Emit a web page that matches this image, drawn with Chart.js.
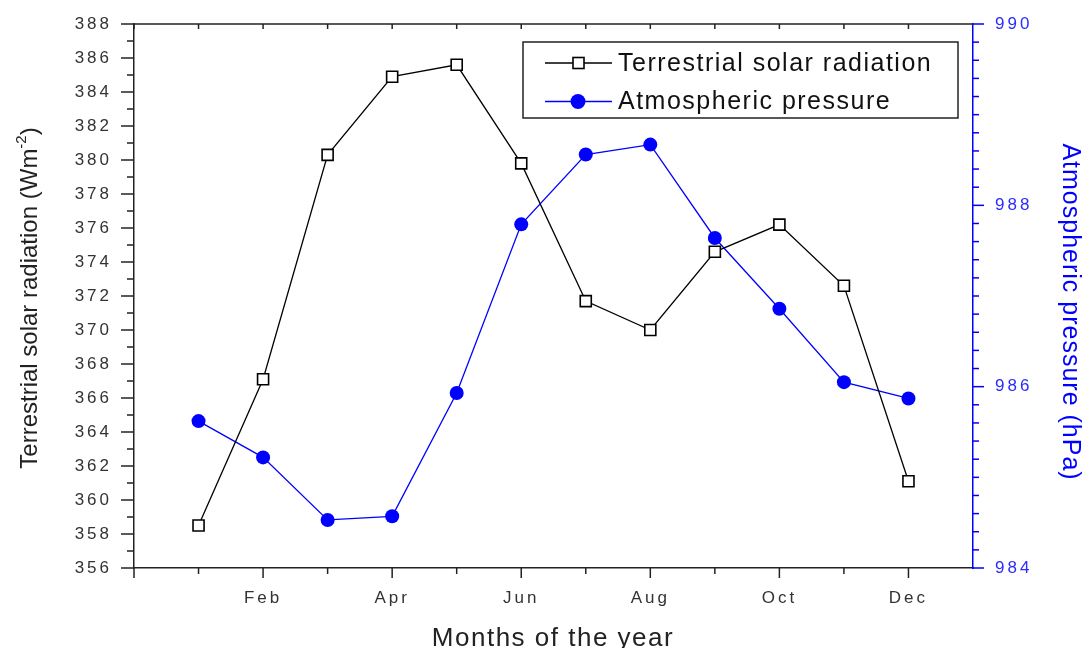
<!DOCTYPE html>
<html>
<head>
<meta charset="utf-8">
<script src="https://cdn.jsdelivr.net/npm/chart.js@4/dist/chart.umd.min.js"></script>
<style>
  html, body { margin: 0; padding: 0; background: #fff; }
  #wrap { width: 1084px; height: 648px; }
</style>
</head>
<body>
<div id="wrap"><canvas id="chartSolarPressure" width="1084" height="648"></canvas></div>
<script>
// month positions on the x axis (Jan = 1 ... Dec = 12)
const months = [1, 2, 3, 4, 5, 6, 7, 8, 9, 10, 11, 12];
// x tick labels, indexed by axis value 0..13
const xTickLabels = ['', '', 'Feb', '', 'Apr', '', 'Jun', '', 'Aug', '', 'Oct', '', 'Dec', ''];

// Terrestrial solar radiation (W m-2), left axis
const solarRadiation = [358.5, 367.1, 380.3, 384.9, 385.6, 379.8, 371.7, 370.0, 374.6, 376.2, 372.6, 361.1];
// Atmospheric pressure (hPa), right axis
const atmPressure = [985.62, 985.22, 984.53, 984.57, 985.93, 987.79, 988.56, 988.67, 987.64, 986.86, 986.05, 985.87];

const seriesLabels = ['Terrestrial solar radiation', 'Atmospheric pressure'];

const BLUE = '#0000ff';
const INK = '#222';
const FONT = '"Liberation Sans", Arial, sans-serif';

function pairs(xs, ys) {
  return xs.map((m, i) => ({ x: m, y: ys[i] }));
}

function line(ctx, x1, y1, x2, y2) {
  ctx.beginPath();
  ctx.moveTo(x1, y1);
  ctx.lineTo(x2, y2);
  ctx.stroke();
}

// fixed box sizes so the plot area sits where the reference has it
function fixBox(size, key) {
  return (s) => {
    s[key] = size;
    s.paddingTop = 0;
    s.paddingBottom = 0;
    s.paddingLeft = 0;
    s.paddingRight = 0;
  };
}

// tick marks, frame, titles and legend drawn the Origin way
const originDecor = {
  id: 'originDecor',
  beforeDraw(chart) {
    chart.ctx.letterSpacing = '3px';
  },
  afterDraw(chart) {
    const ctx = chart.ctx;
    const a = chart.chartArea;
    const sx = chart.scales.x, sy = chart.scales.y, sy1 = chart.scales.y1;
    ctx.save();
    ctx.letterSpacing = '0px';
    ctx.lineWidth = 1.5;

    // top frame
    ctx.strokeStyle = INK;
    line(ctx, a.left, a.top, a.right, a.top);

    // x ticks: bottom outward (major/minor), top inward
    for (let v = sx.min; v < sx.max; v++) {
      const px = sx.getPixelForValue(v);
      line(ctx, px, a.bottom, px, a.bottom + (v % 2 === 0 ? 10 : 6));
      line(ctx, px, a.top, px, a.top + 5);
    }

    // left y ticks
    for (let v = sy.min; v <= sy.max; v++) {
      const py = sy.getPixelForValue(v);
      line(ctx, a.left, py, a.left - ((v - sy.min) % 2 === 0 ? 13 : 7), py);
    }

    // right y ticks (blue)
    ctx.strokeStyle = BLUE;
    const steps = Math.round((sy1.max - sy1.min) / 0.2);
    for (let k = 0; k <= steps; k++) {
      const py = sy1.getPixelForValue(sy1.min + k * 0.2);
      line(ctx, a.right, py, a.right + (k % 10 === 0 ? 11 : 6), py);
    }

    // left title with superscript
    ctx.fillStyle = INK;
    ctx.save();
    ctx.translate(30, 298);
    ctx.rotate(-Math.PI / 2);
    ctx.textBaseline = 'middle';
    ctx.textAlign = 'left';
    const main = 'Terrestrial solar radiation (Wm';
    const sup = '-2';
    const close = ')';
    ctx.font = '24px ' + FONT;
    const w1 = ctx.measureText(main).width;
    const w3 = ctx.measureText(close).width;
    ctx.font = '15px ' + FONT;
    const w2 = ctx.measureText(sup).width;
    let x0 = -(w1 + w2 + w3) / 2;
    ctx.font = '24px ' + FONT;
    ctx.fillText(main, x0, 0);
    ctx.font = '15px ' + FONT;
    ctx.fillText(sup, x0 + w1, -8);
    ctx.font = '24px ' + FONT;
    ctx.fillText(close, x0 + w1 + w2, 0);
    ctx.restore();

    // right title
    ctx.save();
    ctx.translate(1070, 312);
    ctx.rotate(Math.PI / 2);
    ctx.fillStyle = BLUE;
    ctx.font = '25px ' + FONT;
    ctx.letterSpacing = '1px';
    ctx.textAlign = 'center';
    ctx.textBaseline = 'middle';
    ctx.fillText('Atmospheric pressure (hPa)', 0, 0);
    ctx.restore();

    // x title
    ctx.font = '26px ' + FONT;
    ctx.letterSpacing = '1.5px';
    ctx.fillStyle = INK;
    ctx.textAlign = 'center';
    ctx.textBaseline = 'alphabetic';
    ctx.fillText('Months of the year', 553, 646);

    // legend
    const lx = 523, ly = 42, lw = 435, lh = 76;
    ctx.fillStyle = '#fff';
    ctx.fillRect(lx, ly, lw, lh);
    ctx.strokeStyle = INK;
    ctx.lineWidth = 1.5;
    ctx.strokeRect(lx, ly, lw, lh);
    chart.data.datasets.forEach((ds, i) => {
      const ey = 63 + i * 38.5;
      ctx.strokeStyle = ds.borderColor;
      ctx.lineWidth = 1.3;
      line(ctx, 545, ey, 612, ey);
      if (ds.pointStyle === 'rect') {
        ctx.fillStyle = '#fff';
        ctx.fillRect(573, ey - 5.5, 11, 11);
        ctx.lineWidth = 1.6;
        ctx.strokeRect(573, ey - 5.5, 11, 11);
      } else {
        ctx.fillStyle = ds.pointBackgroundColor;
        ctx.beginPath();
        ctx.arc(578, ey, 7.5, 0, Math.PI * 2);
        ctx.fill();
      }
      ctx.fillStyle = '#111';
      ctx.font = '25px ' + FONT;
      ctx.letterSpacing = '1.5px';
      ctx.textAlign = 'left';
      ctx.textBaseline = 'middle';
      ctx.fillText(ds.label, 618, ey + 1);
    });

    ctx.restore();
    ctx.letterSpacing = '0px';
  }
};

const ctxMain = document.getElementById('chartSolarPressure').getContext('2d');
new Chart(ctxMain, {
  type: 'line',
  data: {
    datasets: [{
      label: seriesLabels[0],
      data: pairs(months, solarRadiation),
      yAxisID: 'y',
      borderColor: '#000',
      borderWidth: 1.3,
      pointStyle: 'rect',
      pointRadius: 7.8,
      pointHoverRadius: 7.8,
      pointBackgroundColor: '#fff',
      pointBorderColor: '#000',
      pointBorderWidth: 1.6,
      tension: 0
    }, {
      label: seriesLabels[1],
      data: pairs(months, atmPressure),
      yAxisID: 'y1',
      borderColor: BLUE,
      borderWidth: 1.3,
      pointStyle: 'circle',
      pointRadius: 7,
      pointHoverRadius: 7,
      pointBackgroundColor: BLUE,
      pointBorderColor: BLUE,
      pointBorderWidth: 0,
      tension: 0
    }]
  },
  options: {
    responsive: false,
    animation: false,
    devicePixelRatio: 1,
    layout: { padding: { top: 24, left: 0, right: 0, bottom: 0 } },
    plugins: {
      legend: { display: false },
      tooltip: { enabled: false }
    },
    scales: {
      x: {
        type: 'linear',
        min: 0,
        max: 13,
        afterFit: fixBox(80, 'height'),
        grid: { display: false, drawTicks: false },
        border: { display: true, color: INK, width: 1.5 },
        ticks: {
          stepSize: 1,
          autoSkip: false,
          maxRotation: 0,
          padding: 20,
          color: '#333',
          font: { family: FONT, size: 17 },
          callback: (v) => xTickLabels[v] || ''
        }
      },
      y: {
        position: 'left',
        min: 356,
        max: 388,
        afterFit: fixBox(134, 'width'),
        grid: { display: false, drawTicks: false },
        border: { display: true, color: INK, width: 1.5 },
        ticks: {
          stepSize: 2,
          padding: 22,
          color: '#333',
          font: { family: FONT, size: 17 }
        }
      },
      y1: {
        position: 'right',
        min: 984,
        max: 990,
        afterFit: fixBox(111, 'width'),
        grid: { display: false, drawTicks: false },
        border: { display: true, color: BLUE, width: 1.5 },
        ticks: {
          stepSize: 2,
          padding: 22,
          color: '#2b2bff',
          font: { family: FONT, size: 17 }
        }
      }
    }
  },
  plugins: [originDecor]
});
</script>
</body>
</html>
